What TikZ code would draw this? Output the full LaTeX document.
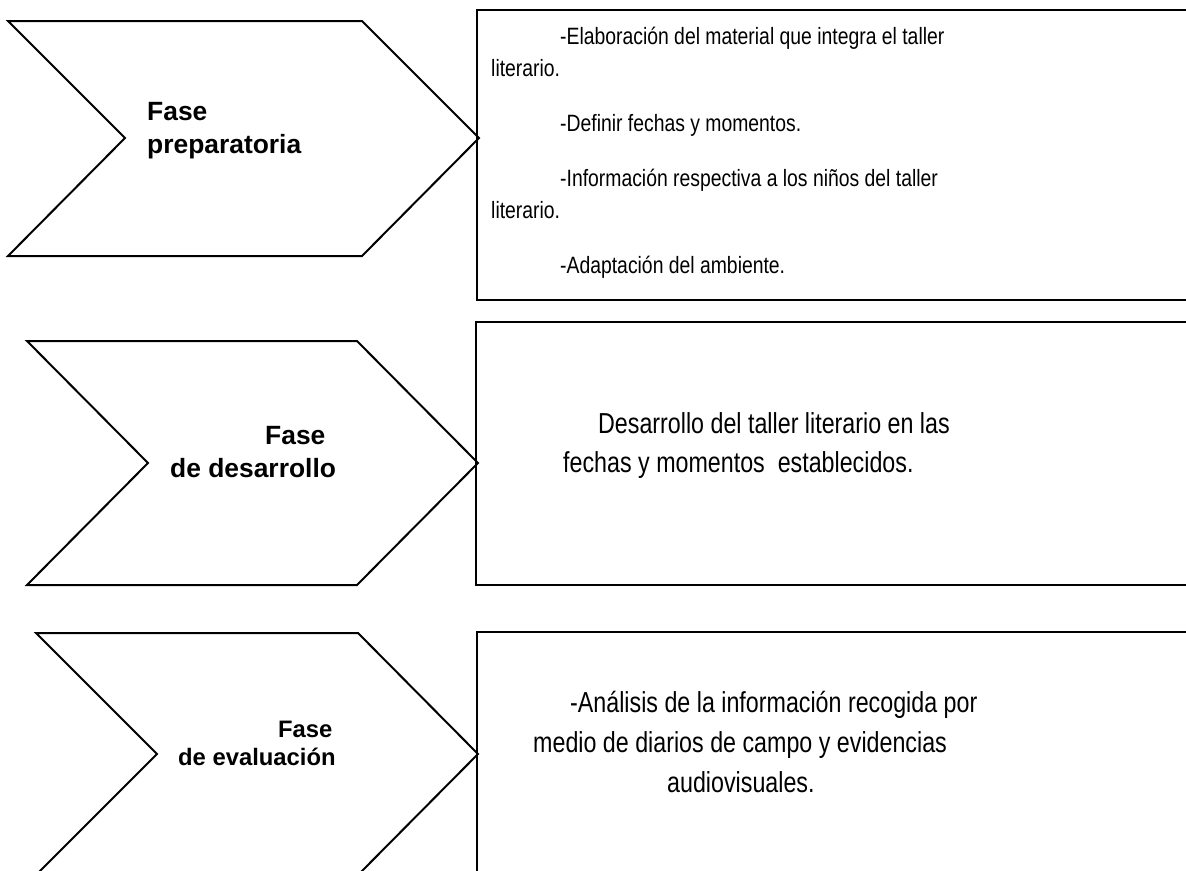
\documentclass[tikz,border=0pt]{standalone}
\usepackage{fontspec}
\setmainfont{Liberation Sans}
\newfontfamily\narrowsans[FakeStretch=0.82]{Liberation Sans}
\newfontfamily\narrowersans[FakeStretch=0.805]{Liberation Sans}
\usepackage{tikz}

\tikzset{
    fase/.style={draw=black, line width=2bp, line join=miter},
    caja/.style={draw=black, line width=2.2bp},
    etiqueta/.style={font=\bfseries\fontsize{26.5}{33}\selectfont, align=left, inner sep=0pt, anchor=base west},
    textocaja/.style={font=\narrowsans\fontsize{23.7}{32}\selectfont, align=left, inner sep=0pt, anchor=base west},
    textogrande/.style={font=\narrowersans\fontsize{29}{39}\selectfont, align=left, inner sep=0pt, anchor=base west}
}

\begin{document}
\begin{tikzpicture}[x=1bp, y=-1bp]
    \clip (0,0) rectangle (1186,871);
    % cajas
    \draw[caja] (477,10) rectangle (1200,300);
    \draw[caja] (476,322) rectangle (1200,585);
    \draw[caja] (477,632) rectangle (1200,900);
    % flechas
    \draw[fase] (8,21) -- (362,21) -- (479,138) -- (362,256) -- (8,256) -- (125,138) -- cycle;
    \draw[fase] (27,341) -- (357,341) -- (478,463) -- (357,585) -- (27,585) -- (148,463) -- cycle;
    \draw[fase] (36,633) -- (358,633) -- (478,754) -- (358,875) -- (36,875) -- (157,754) -- cycle;
    % etiquetas (base = ultima linea)
    \node[etiqueta] (prep) at (147,153) {Fase\\preparatoria};
    \node[etiqueta] (desa) at (170,477) {\hspace*{95bp}Fase\\de desarrollo};
    \node[etiqueta, font=\bfseries\fontsize{23.9}{28}\selectfont] (eval) at (178,765) {\hspace*{100bp}Fase\\de evaluación};
    % textos
    \node[textocaja] (tprep) at (491,273) {\hspace*{69bp}-Elaboración del material que integra el taller\\literario.\\[23bp]
        \hspace*{69bp}-Definir fechas y momentos.\\[23bp]
        \hspace*{69bp}-Información respectiva a los niños del taller\\literario.\\[23bp]
        \hspace*{69bp}-Adaptación del ambiente.};
    \node[textogrande] (tdesa) at (563,472) {\hspace*{35bp}Desarrollo del taller literario en las\\fechas y momentos\ \ establecidos.};
    \node[textogrande, font=\narrowersans\fontsize{29}{40}\selectfont] (teval) at (533,792) {\hspace*{37bp}-Análisis de la información recogida por\\medio de diarios de campo y evidencias\\\hspace*{134bp}audiovisuales.};
\end{tikzpicture}
\end{document}
